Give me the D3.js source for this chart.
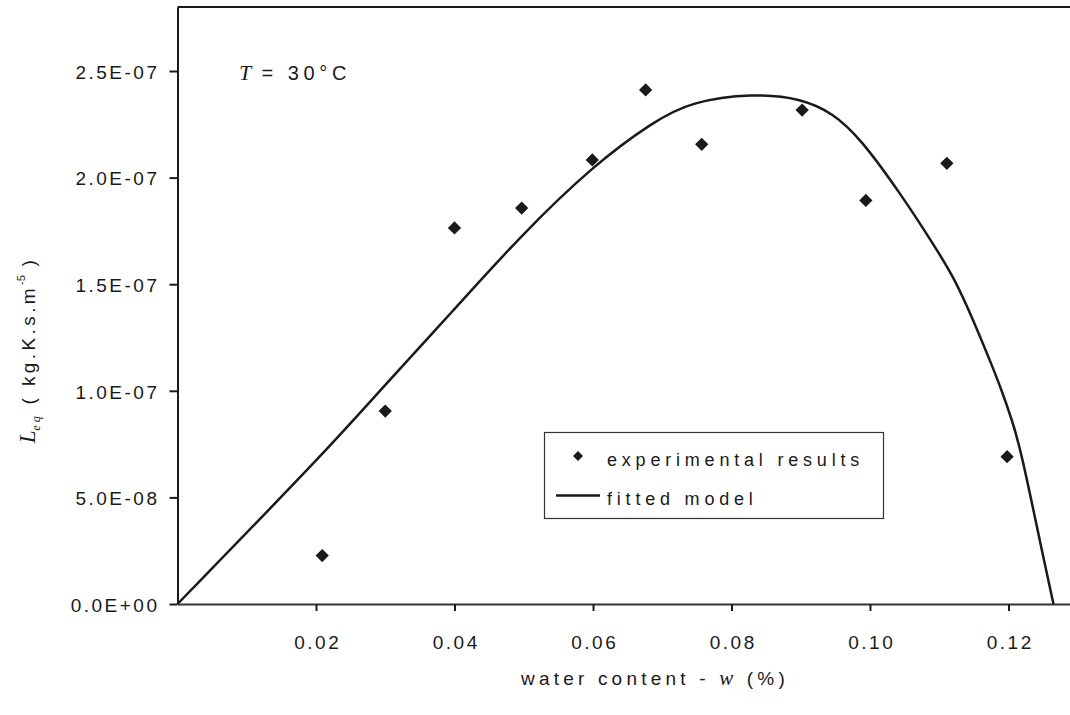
<!DOCTYPE html>
<html>
<head>
<meta charset="utf-8">
<script src="https://cdn.jsdelivr.net/npm/d3@7"></script>
<style>
  body { margin: 0; background: #fff; }
  svg { display: block; }
  text { fill: #1a1a1a; }
</style>
</head>
<body>
<script>
// experimental points (w, L_eq)
const expW = [0.0209, 0.0300, 0.0400, 0.0497, 0.0599, 0.0676, 0.0757, 0.0902, 0.0994, 0.1111, 0.1198]
const expL = [0.227e-7, 0.905e-7, 1.764e-7, 1.857e-7, 2.083e-7, 2.411e-7, 2.156e-7, 2.317e-7, 1.893e-7, 2.067e-7, 0.691e-7]

// fitted model curve
const fitW = [0, 0.0216, 0.0293, 0.0399, 0.0495, 0.0601, 0.0687, 0.0741, 0.0832, 0.0900, 0.0947, 0.0986, 0.1044, 0.1097, 0.1123, 0.1149, 0.1173, 0.1190, 0.1205, 0.1218, 0.1251, 0.1265]
const fitL = [0, 0.722e-7, 1.004e-7, 1.379e-7, 1.726e-7, 2.059e-7, 2.262e-7, 2.356e-7, 2.395e-7, 2.372e-7, 2.302e-7, 2.184e-7, 1.926e-7, 1.660e-7, 1.520e-7, 1.332e-7, 1.144e-7, 1.004e-7, 0.863e-7, 0.722e-7, 0.206e-7, 0]

const xTicks = [0.02, 0.04, 0.06, 0.08, 0.10, 0.12]
const yTicks = [0, 0.5e-7, 1.0e-7, 1.5e-7, 2.0e-7, 2.5e-7]

const legendLabels = ['experimental results', 'fitted model']

const width = 1070, height = 715
const left = 177.5, bottom = 604
const ink = '#1a1a1a'
const sans = '"Liberation Sans", Arial, sans-serif'
const serif = '"Liberation Serif", "Times New Roman", serif'
const ls = 2.5

const x = d3.scaleLinear().domain([0, 0.13]).range([left, left + 0.13 * 6925])
const y = d3.scaleLinear().domain([0, 2.8e-7]).range([bottom, bottom - 2.8 * 213.2])

const fmtE = v => {
    if (v === 0) return '0.0E+00'
    const [m, e] = v.toExponential(1).split('e')
    const n = +e
    return m + 'E' + (n < 0 ? '-' : '+') + String(Math.abs(n)).padStart(2, '0')
}

const svg = d3.select('body').append('svg')
    .attr('width', width)
    .attr('height', height)
    .style('font-family', sans)

// top border of plot area
svg.append('line')
    .attr('x1', left).attr('x2', width + 10)
    .attr('y1', y(2.8e-7)).attr('y2', y(2.8e-7))
    .attr('stroke', ink).attr('stroke-width', 2)

const yAxis = svg.append('g')
    .attr('transform', `translate(${left},0)`)
    .call(d3.axisLeft(y).tickValues(yTicks).tickFormat(fmtE).tickSize(8).tickPadding(10).tickSizeOuter(0))
yAxis.select('.domain').attr('stroke', ink).attr('stroke-width', 2)
yAxis.selectAll('.tick line').attr('stroke', ink).attr('stroke-width', 2)
yAxis.selectAll('.tick text')
    .attr('fill', ink)
    .style('font-size', '19px')
    .style('letter-spacing', ls + 'px')
    .attr('dy', '0.38em')

const xAxis = svg.append('g')
    .attr('transform', `translate(0,${bottom})`)
    .call(d3.axisBottom(x).tickValues(xTicks).tickFormat(d3.format('.2f')).tickSize(7).tickPadding(25).tickSizeOuter(0))
xAxis.select('.domain').attr('stroke', '#333').attr('stroke-width', 2)
xAxis.selectAll('.tick line').attr('stroke', ink).attr('stroke-width', 2)
xAxis.selectAll('.tick text')
    .attr('fill', ink)
    .style('font-size', '19px')
    .style('letter-spacing', ls + 'px')
    .attr('dx', ls / 2)

// fitted model
const line = d3.line()
    .x((d, i) => x(fitW[i]))
    .y((d, i) => y(fitL[i]))
    .curve(d3.curveBasis)

svg.append('path')
    .datum(fitW)
    .attr('d', line)
    .attr('fill', 'none')
    .attr('stroke', ink)
    .attr('stroke-width', 2.5)

// experimental diamonds
const diamond = d3.symbol(d3.symbolSquare, 88)
svg.append('g')
    .selectAll('path')
    .data(expW)
    .join('path')
    .attr('d', diamond)
    .attr('transform', (d, i) => `translate(${x(d)},${y(expL[i])}) rotate(45)`)
    .attr('fill', ink)

// temperature annotation
const tt = svg.append('text')
    .attr('x', 239).attr('y', 80)
    .style('font-size', '20px')
tt.append('tspan').text('T').style('font-family', serif).style('font-style', 'italic').style('font-size', '22px')
tt.append('tspan').text(' = 30°C').style('letter-spacing', '4.6px')

// legend
const lg = svg.append('g')
lg.append('rect')
    .attr('x', 544.5).attr('y', 432.5)
    .attr('width', 339).attr('height', 86)
    .attr('fill', '#fff').attr('stroke', '#333').attr('stroke-width', 1.2)
lg.append('path')
    .attr('d', d3.symbol(d3.symbolSquare, 50))
    .attr('transform', 'translate(578,456) rotate(45)')
    .attr('fill', ink)
lg.append('line')
    .attr('x1', 556).attr('x2', 600)
    .attr('y1', 495.5).attr('y2', 495.5)
    .attr('stroke', ink).attr('stroke-width', 2.5)
lg.selectAll('text.lab')
    .data(legendLabels)
    .join('text')
    .attr('class', 'lab')
    .attr('x', 607)
    .attr('y', (d, i) => 466 + i * 39)
    .style('font-size', '18px')
    .style('letter-spacing', '4.8px')
    .text(d => d)

// x axis title
const xt = svg.append('text')
    .attr('x', 655).attr('y', 685)
    .attr('text-anchor', 'middle')
    .style('font-size', '19px')
    .style('letter-spacing', '4.2px')
xt.append('tspan').text('water content - ')
xt.append('tspan').text('w').style('font-family', serif).style('font-style', 'italic').style('font-size', '21px')
xt.append('tspan').text(' (%)')

// y axis title
const yt = svg.append('text')
    .attr('transform', 'translate(35,350) rotate(-90)')
    .attr('text-anchor', 'middle')
    .style('font-size', '19px')
yt.append('tspan').text('L').style('font-family', serif).style('font-style', 'italic').style('font-size', '23px')
yt.append('tspan').text('eq').attr('dy', 5).style('font-family', serif).style('font-style', 'italic').style('font-size', '12px').style('letter-spacing', '3px')
yt.append('tspan').text('  ( kg.K.s.m').attr('dy', -5).style('letter-spacing', '3.4px')
yt.append('tspan').text('-5').attr('dy', -10).style('font-size', '11px')
yt.append('tspan').text('  )').attr('dy', 10).style('letter-spacing', '3.4px')
</script>
</body>
</html>
